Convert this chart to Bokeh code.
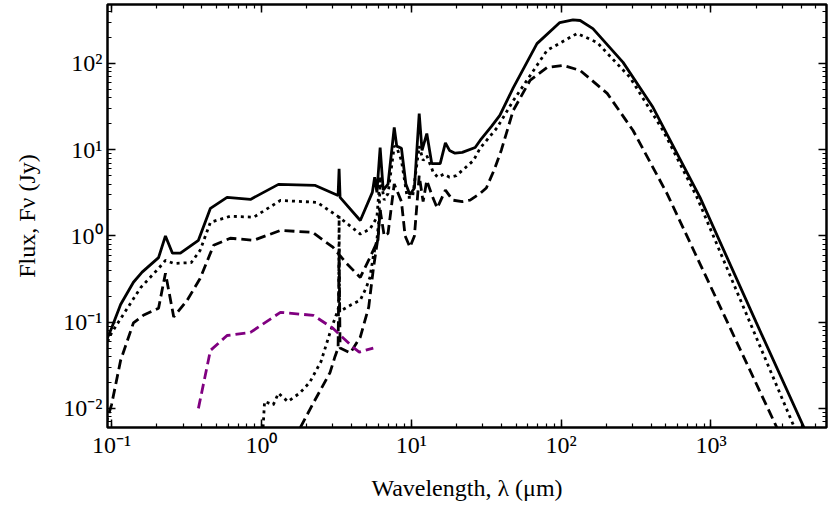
from bokeh.plotting import figure
from bokeh.models import Range1d, LogAxis, LogTicker, CustomJSTickFormatter
from bokeh.embed import file_html
from bokeh.resources import INLINE

# ---- data (wavelength in micron, flux in Jy) ----
lam_total1 = [0.09, 0.1, 0.115, 0.14, 0.16, 0.206, 0.229, 0.255, 0.288, 0.38, 0.457, 0.59, 0.845,
              1.3, 2.29, 3.25, 3.3, 3.35, 4.57, 5.5, 5.7, 5.9, 6.2, 6.5, 7.0, 7.7, 8.0, 8.6, 9.2,
              9.8, 10.5, 11.3, 11.8, 12.7, 13.7, 15.6, 16.9, 18.0, 19.6, 21.9, 26.7, 28.8, 34.3,
              39.0, 47.9, 69.0, 98.0, 120.0, 134.0, 163.0, 259.0, 410.0, 845.0, 2000.0, 5000.0]
flux_total1 = [0.055, 0.085, 0.16, 0.29, 0.38, 0.56, 1.0, 0.63, 0.63, 0.89, 2.09, 2.8, 2.65,
               3.96, 3.85, 2.95, 6.0, 2.8, 1.51, 3.2, 4.8, 3.2, 10.6, 3.4, 4.0, 18.1, 11.0, 10.4, 4.0,
               3.0, 3.6, 26.3, 9.8, 15.4, 6.9, 6.9, 12.0, 9.8, 9.1, 9.3, 10.6, 12.8, 18.6,
               25.0, 52.0, 170.0, 298.0, 320.0, 315.0, 254.0, 103.0, 31.0, 2.8, 0.10, 0.003]

lam_total2 = [0.09, 0.1, 0.156, 0.206, 0.229, 0.26, 0.34, 0.39, 0.457, 0.62, 0.89, 1.34, 2.36,
              3.3, 4.57, 5.3, 5.9, 6.2, 6.6, 7.0, 7.7, 8.0, 8.6, 9.4, 10.2, 11.3, 12.0, 12.7,
              14.0, 15.0, 16.5, 18.0, 20.0, 23.0, 26.0, 28.8, 37.4, 47.9, 80.6, 128.0, 174.0,
              288.0, 479.0, 807.0, 3520.0, 6000.0]
flux_total2 = [0.05, 0.075, 0.25, 0.42, 0.52, 0.48, 0.49, 0.68, 1.44, 1.69, 1.65, 2.58, 2.45,
               1.65, 1.05, 1.2, 1.64, 5.0, 2.6, 3.1, 11.0, 10.6, 7.5, 2.8, 2.8, 11.0, 7.5, 8.5,
               5.5, 4.8, 5.2, 4.8, 5.0, 6.2, 7.5, 10.4, 18.0, 37.0, 142.0, 223.0, 175.0,
               69.0, 16.7, 2.8, 0.0066, 0.0008]

lam_total3 = [0.09, 0.1, 0.115, 0.14, 0.163, 0.206, 0.229, 0.26, 0.32, 0.39, 0.48, 0.62, 0.89,
              1.34, 2.2, 3.0, 3.7, 4.57, 5.3, 6.0, 6.2, 6.6, 7.0, 7.7, 8.6, 9.1, 9.8, 10.5, 11.3,
              12.0, 12.7, 13.7, 14.9, 16.9, 18.9, 21.9, 24.7, 28.8, 31.7, 36.0, 40.0, 47.9, 62.0,
              80.6, 103.0, 134.0, 203.0, 302.0, 509.0, 2750.0, 6000.0]
flux_total3 = [0.006, 0.011, 0.036, 0.098, 0.12, 0.145, 0.37, 0.115, 0.18, 0.32, 0.78, 0.94, 0.89,
               1.16, 1.1, 0.74, 0.48, 0.33, 0.56, 0.9, 2.0, 1.0, 1.07, 4.0, 2.5, 1.0, 0.74, 1.0, 5.0,
               2.5, 4.4, 3.0, 2.1, 3.4, 2.6, 2.5, 2.6, 3.1, 3.6, 6.0, 10.0, 28.5, 63.5,
               90.0, 95.0, 83.0, 45.0, 16.7, 3.1, 0.006, 0.00025]

lam_dust2 = [1.02, 1.05, 1.2, 1.3, 1.5, 1.8, 2.1, 2.5, 2.9, 3.2, 3.28, 3.3, 3.32, 3.5, 4.0,
             4.57, 5.0, 5.3, 5.6, 5.9, 6.1, 6.2]
flux_dust2 = [0.005, 0.012, 0.011, 0.015, 0.012, 0.015, 0.02, 0.035, 0.08, 0.13, 0.15, 1.7, 0.15,
              0.14, 0.16, 0.18, 0.25, 0.33, 0.6, 0.9, 1.6, 5.0]

lam_dust3 = [1.82, 2.22, 2.87, 3.1, 3.25, 3.3, 3.35, 3.92, 4.57, 5.2, 5.6, 6.0, 6.2]
flux_dust3 = [0.006, 0.0115, 0.026, 0.04, 0.05, 0.7, 0.05, 0.044, 0.067, 0.149, 0.43, 0.96, 2.0]

lam_obs = [0.38, 0.457, 0.59, 0.845, 1.34, 2.22, 3.0, 4.1, 4.5, 5.58]
flux_obs = [0.01, 0.047, 0.070, 0.076, 0.13, 0.12, 0.085, 0.051, 0.045, 0.05]

FONT = "Liberation Serif"

p = figure(width=830, height=512, x_axis_type="log", y_axis_type="log",
           x_range=Range1d(0.094, 5900), y_range=Range1d(0.006, 483),
           output_backend="svg", toolbar_location=None,
           min_border_left=107, min_border_right=4, min_border_top=4, min_border_bottom=85)
p.grid.visible = False
p.outline_line_color = "black"
p.outline_line_width = 2.5

sup_js = """
const e = Math.round(Math.log10(tick));
const m = {'-':'\u207b','0':'\u2070','1':'\u00b9','2':'\u00b2','3':'\u00b3','4':'\u2074','5':'\u2075','6':'\u2076','7':'\u2077','8':'\u2078','9':'\u2079'};
return '10' + String(e).split('').map(c => m[c]).join('');
"""

def style_axis(ax, labels=True):
    ax.ticker = LogTicker(num_minor_ticks=10)
    ax.major_tick_in = 8
    ax.major_tick_out = 0
    ax.minor_tick_in = 4
    ax.minor_tick_out = 0
    ax.major_tick_line_width = 1.5
    ax.minor_tick_line_width = 1.2
    ax.axis_line_color = None
    if labels:
        ax.formatter = CustomJSTickFormatter(code=sup_js)
        ax.major_label_text_font = FONT
        ax.major_label_text_font_size = "24px"
        ax.major_label_text_color = "black"
        ax.axis_label_text_font = FONT
        ax.axis_label_text_font_size = "24px"
        ax.axis_label_text_font_style = "normal"
        ax.axis_label_text_color = "black"
    else:
        ax.major_label_text_font_size = "1px"
        ax.major_label_text_alpha = 0
        ax.major_label_standoff = 0
        ax.axis_label_standoff = 0

xa = p.xaxis[0]
ya = p.yaxis[0]
style_axis(xa)
style_axis(ya)
xa.axis_label = "Wavelength, \u03bb (\u03bcm)"
ya.axis_label = "Flux, F\u03bd (Jy)"
xa.major_label_standoff = 4
xa.axis_label_standoff = 14
ya.major_label_standoff = 5
ya.axis_label_standoff = 20

top = LogAxis()
right = LogAxis()
style_axis(top, labels=False)
style_axis(right, labels=False)
p.add_layout(top, "above")
p.add_layout(right, "right")

LW = 2.8
p.line(lam_total1, flux_total1, line_color="black", line_width=LW)
p.line(lam_total2, flux_total2, line_color="black", line_width=LW, line_dash="3 4")
p.line(lam_total3, flux_total3, line_color="black", line_width=LW, line_dash="10 5")
p.line(lam_dust2, flux_dust2, line_color="black", line_width=LW, line_dash="3 4")
p.line(lam_dust3, flux_dust3, line_color="black", line_width=LW, line_dash="10 5")
p.line(lam_obs, flux_obs, line_color="#800080", line_width=LW, line_dash="10 5")

open("out.html", "w").write(file_html(p, INLINE))
